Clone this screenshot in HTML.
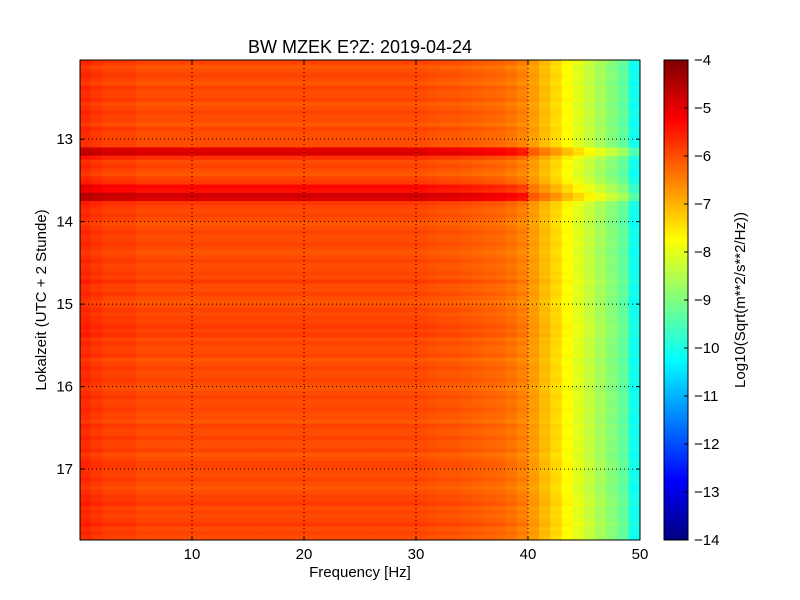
<!DOCTYPE html>
<html><head><meta charset="utf-8"><style>
body{margin:0;background:#fff;}
svg{display:block;font-family:"Liberation Sans","DejaVu Sans",sans-serif;}
</style></head><body>
<svg id="chart" width="800" height="600" viewBox="0 0 800 600">
<rect width="800" height="600" fill="#fff"/>
<text x="360" y="53" font-size="18" text-anchor="middle">BW MZEK E?Z: 2019-04-24</text>
<g id="heat"></g>
<g id="grid"></g>
<rect x="80" y="60" width="560" height="480" fill="none" stroke="#000" stroke-width="1"/>
<g id="xticks"></g>
<g id="yticks"></g>
<text x="360" y="577" font-size="15" text-anchor="middle">Frequency [Hz]</text>
<text transform="translate(46,300) rotate(-90)" font-size="15" text-anchor="middle">Lokalzeit (UTC + 2 Stunde)</text>
<g id="cbar"></g>
<text transform="translate(745,300) rotate(-90)" font-size="15" text-anchor="middle">Log10(Sqrt(m**2/s**2/Hz))</text>
</svg>
<script>
// data
const freqBins = [0,1,2,3,4,5,6,7,8,9,10,11,12,13,14,15,16,17,18,19,20,21,22,23,24,25,26,27,28,29,30,31,32,33,34,35,36,37,38,39,40,41,42,43,44,45,46,47,48,49];
const freqLevel = [-5.7,-5.8,-5.9,-5.9,-5.9,-6.0,-6.0,-6.0,-6.0,-6.0,-6.0,-6.0,-6.0,-6.0,-6.0,-6.0,-6.0,-6.0,-6.0,-6.0,-6.0,-6.0,-6.0,-6.0,-6.0,-6.0,-6.0,-6.0,-6.0,-6.0,-6.0,-6.05,-6.1,-6.1,-6.15,-6.2,-6.25,-6.3,-6.4,-6.55,-6.8,-7.1,-7.4,-7.75,-8.05,-8.35,-8.65,-8.95,-9.3,-10.1];
const timeStart = 12.0, timeStep = 0.05;
const rowOffset = [0,0.1,-0.1,0,0.1,0,-0.1,0.1,0,0,0.1,-0.1,0,0.1,0,0,-0.1,0.1,0,0,0,0,1.0,1.1,0.3,0,0.1,0,-0.1,0.1,0.2,0.7,0.6,1.2,1.1,0.2,0.1,0,0.1,0,-0.1,0,0.1,0,0,0.1,0,-0.1,0,0.1,0,0,0.1,0,0.2,0,0,0.1,0,-0.1,0,0.1,0,0.1,0.1,0.2,0.1,0.2,0,0.1,0,0,0.1,-0.1,0,0.1,0,0,0.1,0,-0.1,0,0.1,0,0,0.1,0,0,-0.1,0.1,0,0,0.1,0,0,0.1,-0.1,0,0.1,0.1,0,0,0.1,0,-0.1,0,0.1,0.1,0.2,0,0.1,0,0.1,0.2,0,0.1,0];
const xTicks = [10,20,30,40,50];
const yTicks = [13,14,15,16,17];
const cbTicks = [-4,-5,-6,-7,-8,-9,-10,-11,-12,-13,-14];
const vmin = -14, vmax = -4;
// axes
const X0=80,X1=640,Y0=60,Y1=540;
const fMin=0,fMax=50,tMin=12.04,tMax=17.86;
const xs=f=>X0+(f-fMin)/(fMax-fMin)*(X1-X0);
const ys=t=>Y0+(t-tMin)/(tMax-tMin)*(Y1-Y0);
function jet(v){
  let n=Math.max(0,Math.min(1,(v-vmin)/(vmax-vmin)));
  const c=x=>Math.round(255*Math.max(0,Math.min(1,x)));
  return `rgb(${c(1.5-Math.abs(4*n-3))},${c(1.5-Math.abs(4*n-2))},${c(1.5-Math.abs(4*n-1))})`;
}
const NS='http://www.w3.org/2000/svg';
const mk=(t,a,p)=>{const e=document.createElementNS(NS,t);for(const k in a)e.setAttribute(k,a[k]);p.appendChild(e);return e;};
const heat=document.getElementById('heat');
rowOffset.forEach((off,i)=>{
  const t0=timeStart+i*timeStep, t1=t0+timeStep;
  const ya=Math.max(Y0,ys(t0)), yb=Math.min(Y1,ys(t1));
  if(yb<=ya) return;
  freqBins.forEach((f,j)=>{
    const fade = freqLevel[j] < -6.7 ? 0.6 : 1;
    const r=mk('rect',{x:xs(f),y:ya,width:xs(f+1)-xs(f)+0.5,height:yb-ya+0.5,fill:jet(freqLevel[j]+off*fade)},heat);
    
    
  });
});
const grid=document.getElementById('grid'), xt=document.getElementById('xticks'), yt=document.getElementById('yticks');
xTicks.forEach(v=>{
  const x=xs(v);
  if(v<fMax){const g=mk('line',{x1:x,x2:x,y1:Y0,y2:Y1,stroke:'#000','stroke-dasharray':'1,3'},grid);
  }
  mk('line',{x1:x,x2:x,y1:Y1,y2:Y1-4,stroke:'#000'},xt);
  mk('line',{x1:x,x2:x,y1:Y0,y2:Y0+4,stroke:'#000'},xt);
  const l=mk('text',{x:x,y:Y1+19,'font-size':15,'text-anchor':'middle'},xt);l.textContent=v;
  
});
yTicks.forEach(v=>{
  const y=ys(v);
  const g=mk('line',{x1:X0,x2:X1,y1:y,y2:y,stroke:'#000','stroke-dasharray':'1,3'},grid);
  
  mk('line',{x1:X0,x2:X0+4,y1:y,y2:y,stroke:'#000'},yt);
  mk('line',{x1:X1,x2:X1-4,y1:y,y2:y,stroke:'#000'},yt);
  const l=mk('text',{x:X0-7,y:y+5,'font-size':15,'text-anchor':'end'},yt);l.textContent=v;
  
});
// colorbar
const cb=document.getElementById('cbar');
const CX=664,CW=24;
const cy=v=>Y0+(vmax-v)/(vmax-vmin)*(Y1-Y0);
for(let k=0;k<240;k++){
  const v=vmax-(k+0.5)*(vmax-vmin)/240;
  mk('rect',{x:CX,y:Y0+k*2,width:CW,height:2.5,fill:jet(v)},cb);
}
mk('rect',{x:CX,y:Y0,width:CW,height:Y1-Y0,fill:'none',stroke:'#000'},cb);
cbTicks.forEach(v=>{
  const y=cy(v);
  mk('line',{x1:CX+CW,x2:CX+CW-4,y1:y,y2:y,stroke:'#000'},cb);
  const l=mk('text',{x:CX+CW+6,y:y+5,'font-size':15},cb);l.textContent=v.toString().replace('-','\u2212');
  
});
</script>
</body></html>
